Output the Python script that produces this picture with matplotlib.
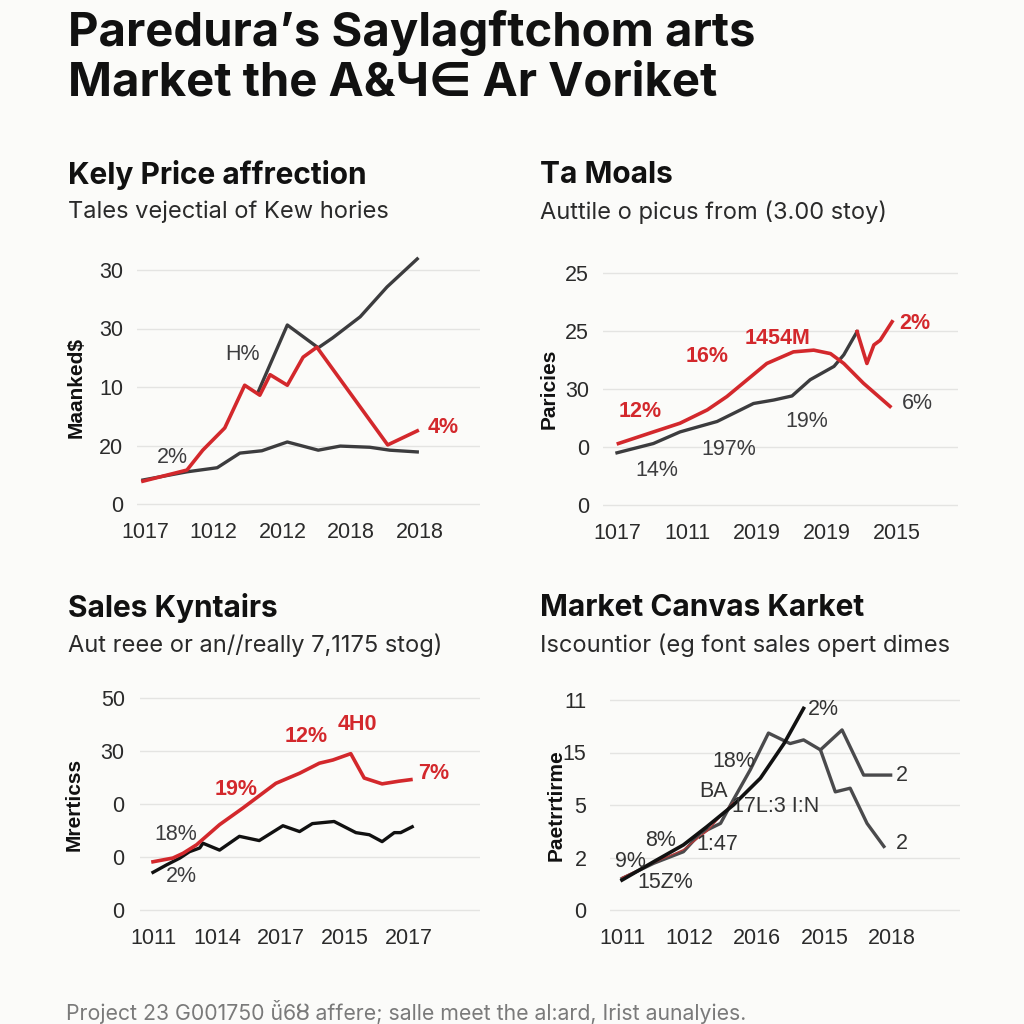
import numpy as np
import matplotlib.pyplot as plt

plt.rcParams['font.family'] = ['Liberation Sans', 'DejaVu Sans']
HEAD_FONT = ['Inter', 'DejaVu Sans']

RED = '#d3282c'
GRAY = '#3c3c3e'
BLACK = '#111111'
BG = '#fbfbf9'

# ---- panel 1 : Kely Price affrection
p1_xticks = ['1017', '1012', '2012', '2018', '2018']
p1_yticks = ['0', '20', '10', '30', '30']
p1_gray_x = [-0.03, 0.61, 1.05, 1.38, 1.70, 2.07, 2.52, 2.84, 3.27, 3.56, 3.96]
p1_gray_y = [0.41, 0.55, 0.62, 0.87, 0.91, 1.06, 0.92, 0.99, 0.97, 0.92, 0.89]
p1_high_x = [1.64, 2.07, 2.52, 2.73, 3.13, 3.52, 3.96]
p1_high_y = [1.90, 3.06, 2.67, 2.84, 3.20, 3.71, 4.19]
p1_red_x = [-0.03, 0.61, 0.84, 1.16, 1.45, 1.67, 1.82, 2.07, 2.30, 2.50, 3.53, 3.96]
p1_red_y = [0.39, 0.58, 0.92, 1.30, 2.03, 1.86, 2.21, 2.03, 2.51, 2.68, 1.01, 1.25]

# ---- panel 2 : Ta Moals
p2_xticks = ['1017', '1011', '2019', '2019', '2015']
p2_yticks = ['0', '0', '30', '25', '25']
p2_red_x = [0.02, 0.52, 0.90, 1.29, 1.57, 1.86, 2.14, 2.52, 2.81, 3.05, 3.24, 3.52, 3.90]
p2_red_y = [1.06, 1.26, 1.41, 1.64, 1.87, 2.16, 2.44, 2.64, 2.67, 2.61, 2.44, 2.10, 1.70]
p2_gray_x = [0.0, 0.52, 0.90, 1.43, 1.95, 2.24, 2.50, 2.76, 3.10, 3.24, 3.43]
p2_gray_y = [0.90, 1.06, 1.26, 1.44, 1.75, 1.81, 1.88, 2.16, 2.39, 2.59, 2.99]
p2_red2_x = [3.43, 3.57, 3.67, 3.76, 3.93]
p2_red2_y = [2.99, 2.44, 2.76, 2.84, 3.16]

# ---- panel 3 : Sales Kyntairs
p3_xticks = ['1011', '1014', '2017', '2015', '2017']
p3_yticks = ['0', '0', '0', '30', '50']
p3_red_x = [0, 0.31, 0.47, 0.68, 1.04, 1.40, 1.61, 1.92, 2.29, 2.60, 2.81, 3.09, 3.30, 3.58, 3.84, 4.03]
p3_red_y = [0.91, 0.98, 1.07, 1.23, 1.61, 1.92, 2.11, 2.39, 2.58, 2.77, 2.83, 2.95, 2.49, 2.38, 2.43, 2.46]
p3_blk_x = [0, 0.21, 0.42, 0.57, 0.73, 0.78, 1.04, 1.35, 1.66, 2.03, 2.29, 2.49, 2.83, 3.17, 3.38, 3.58, 3.77, 3.87, 4.05]
p3_blk_y = [0.71, 0.85, 0.98, 1.10, 1.17, 1.26, 1.13, 1.39, 1.31, 1.59, 1.48, 1.63, 1.67, 1.46, 1.42, 1.29, 1.46, 1.46, 1.57]

# ---- panel 4 : Market Canvas Karket
p4_xticks = ['1011', '1012', '2016', '2015', '2018']
p4_yticks = ['0', '2', '5', '15', '11']
p4_blk_x = [0, 0.47, 0.91, 1.26, 1.65, 2.05, 2.40, 2.69]
p4_blk_y = [0.57, 0.92, 1.24, 1.59, 2.00, 2.51, 3.17, 3.84]
p4_ga_x = [0, 0.47, 0.91, 1.16, 1.46, 1.65, 1.90, 2.17, 2.49, 2.69, 2.94, 3.26, 3.58, 3.98]
p4_ga_y = [0.60, 0.89, 1.11, 1.46, 1.65, 2.10, 2.67, 3.37, 3.17, 3.24, 3.05, 3.43, 2.57, 2.57]
p4_gb_x = [2.94, 3.16, 3.38, 3.63, 3.88]
p4_gb_y = [3.05, 2.25, 2.32, 1.65, 1.21]
p4_red_x = [0, 0.47, 0.91, 1.26, 1.65]
p4_red_y = [0.62, 0.90, 1.15, 1.50, 2.05]

W = H = 1024
fig = plt.figure(figsize=(10.24, 10.24), dpi=100, facecolor=BG)


def make_ax(left, right, y0px, unit, x0px, xstep, xticks, yticks, ylab, ylab_x, ypad):
    # ylim -0.1..4.3 in grid units
    bottom = y0px + 0.1 * unit
    top = y0px - 4.3 * unit
    ax = fig.add_axes([left / W, 1 - bottom / H, (right - left) / W, (bottom - top) / H])
    ax.set_facecolor(BG)
    ax.set_ylim(-0.1, 4.3)
    ax.set_xlim((left - x0px) / xstep, (right - x0px) / xstep)
    ax.set_yticks(range(5))
    ax.set_yticklabels(yticks)
    ax.set_xticks(range(5))
    ax.set_xticklabels(xticks)
    ax.grid(axis='y', color='#e4e4e2', lw=1.0)
    ax.set_axisbelow(True)
    for s in ax.spines.values():
        s.set_visible(False)
    ax.tick_params(length=0, labelsize=15.5, colors='#2a2a2a')
    ax.tick_params(axis='y', pad=ypad)
    ax.tick_params(axis='x', pad=9)
    fig.text(ylab_x / W, 1 - (y0px - 2 * unit) / H, ylab, rotation=90, ha='center',
             va='center', fontsize=15, fontweight='bold', color=BLACK)
    return ax


def heading(x, y, title, sub):
    fig.text(x / W, 1 - y / H, title, fontsize=21.5, fontweight='bold', color=BLACK,
             va='center', family=HEAD_FONT)
    fig.text(x / W, 1 - (y + 37) / H, sub, fontsize=17, color='#2a2a2a', va='center',
             family=HEAD_FONT)


fig.text(68 / W, 1 - 33 / H, 'Paredura\u2019s Saylagftchom arts', fontsize=34,
         fontweight='bold', color=BLACK, va='center', family=HEAD_FONT)
fig.text(68 / W, 1 - 84 / H, 'Market the A&\u0427\u2208 Ar Voriket', fontsize=34,
         fontweight='bold', color=BLACK, va='center', family=HEAD_FONT)

heading(68, 175, 'Kely Price affrection', 'Tales vejectial of Kew hories')
heading(540, 175, 'Ta Moals', 'Auttile o picus from (3.00 stoy)')
heading(68, 608, 'Sales Kyntairs', 'Aut reee or an//really 7,1175 stog)')
heading(540, 608, 'Market Canvas Karket', 'Iscountior (eg font sales opert dimes')

# panel 1
ax1 = make_ax(137, 480, 504, 58.5, 145, 68.75, p1_xticks, p1_yticks, 'Maanked$', 76, 10)
ax1.plot(p1_gray_x, p1_gray_y, color=GRAY, lw=2.4)
ax1.plot(p1_high_x, p1_high_y, color=GRAY, lw=2.4)
ax1.plot(p1_red_x, p1_red_y, color=RED, lw=2.6)
ax1.text(1.42, 2.55, 'H%', color=GRAY, fontsize=15.5, ha='center', va='center')
ax1.text(0.40, 0.80, '2%', color=GRAY, fontsize=15.5, ha='center', va='center')
ax1.text(4.33, 1.30, '4%', color=RED, fontsize=15.5, fontweight='bold', ha='center', va='center')

# panel 2
ax2 = make_ax(603, 958, 505, 58, 617, 70, p2_xticks, p2_yticks, 'Paricies', 549, 10)
ax2.plot(p2_gray_x, p2_gray_y, color=GRAY, lw=2.4)
ax2.plot(p2_red_x, p2_red_y, color=RED, lw=2.6)
ax2.plot(p2_red2_x, p2_red2_y, color=RED, lw=2.6)
for x, y, t, c in [(0.33, 1.61, '12%', RED), (1.29, 2.56, '16%', RED), (2.29, 2.87, '1454M', RED),
                   (4.26, 3.13, '2%', RED), (4.29, 1.75, '6%', GRAY), (2.71, 1.44, '19%', GRAY),
                   (1.60, 0.95, '197%', GRAY), (0.57, 0.60, '14%', GRAY)]:
    ax2.text(x, y, t, color=c, fontsize=15.5, ha='center', va='center',
             fontweight='bold' if c == RED else 'normal')

# panel 3
ax3 = make_ax(140, 480, 910, 53, 153, 64, p3_xticks, p3_yticks, 'Mrerticss', 74, 11)
ax3.plot(p3_blk_x, p3_blk_y, color=BLACK, lw=2.4)
ax3.plot(p3_red_x, p3_red_y, color=RED, lw=2.6)
for x, y, t, c in [(0.36, 1.42, '18%', GRAY), (0.44, 0.63, '2%', GRAY), (1.30, 2.27, '19%', RED),
                   (2.39, 3.28, '12%', RED), (3.19, 3.50, '4H0', RED), (4.39, 2.58, '7%', RED)]:
    ax3.text(x, y, t, color=c, fontsize=15.5, ha='center', va='center',
             fontweight='bold' if c == RED else 'normal')

# panel 4
ax4 = make_ax(610, 960, 910, 52.5, 622, 67.5, p4_xticks, p4_yticks, 'Paetrrtirme', 556, 17)
ax4.plot(p4_ga_x, p4_ga_y, color='#4a4a4c', lw=2.4)
ax4.plot(p4_gb_x, p4_gb_y, color='#4a4a4c', lw=2.4)
ax4.plot(p4_red_x, p4_red_y, color='#b03a3a', lw=1.0)
ax4.plot(p4_blk_x, p4_blk_y, color=BLACK, lw=2.6)
for x, y, t in [(2.99, 3.81, '2%'), (4.15, 2.57, '2'), (4.15, 1.27, '2'), (1.65, 2.83, '18%'),
                (1.36, 2.25, 'BA'), (2.27, 1.97, '17L:3 I:N'), (0.57, 1.33, '8%'),
                (1.41, 1.24, '1:47'), (0.12, 0.93, '9%'), (0.64, 0.52, '15Z%')]:
    ax4.text(x, y, t, color='#333333', fontsize=15.5, ha='center', va='center')

fig.text(66 / W, 1 - 1012 / H,
         'Project 23 G001750 \u01da6\u0223 affere; salle meet the al:ard, Irist aunalyies.',
         fontsize=15.3, color='#7a7a7a', va='center', family=HEAD_FONT)

fig.savefig('out.png', dpi=100, facecolor=BG)
